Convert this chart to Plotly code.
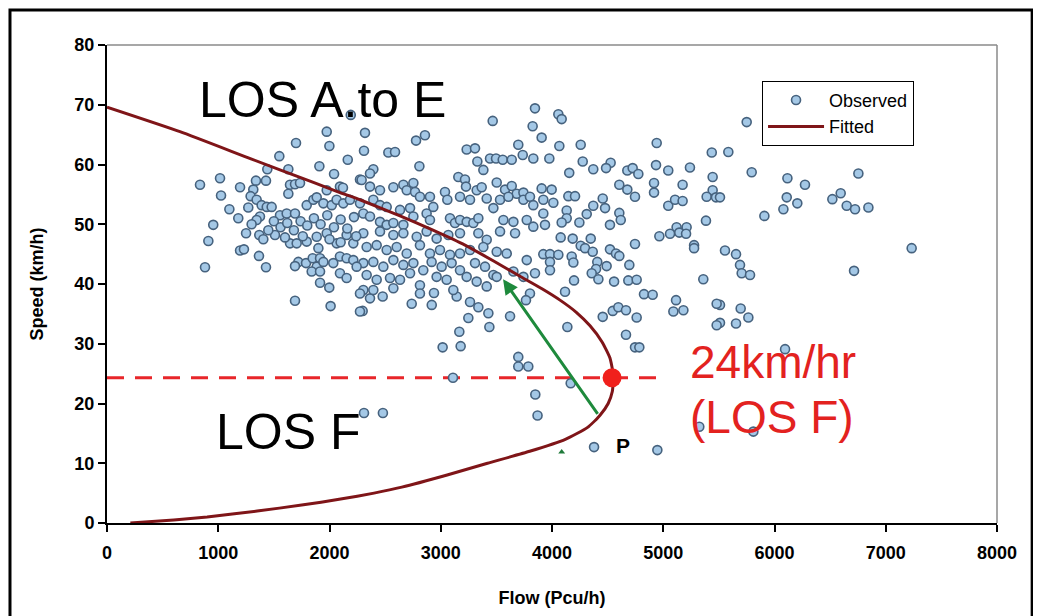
import plotly.graph_objects as go

# ---------------- data ----------------
observed = [
    (836,56.6),(1016,57.7),(1025,54.8),(955,49.9),(911,47.2),(881,42.8),
    (1196,56.2),(1315,55.8),(1339,57.3),(1429,57.3),(1441,59.2),(1549,61.4),(1630,59.2),(1699,63.6),
    (1645,56.6),(1690,56.7),(1735,56.9),(1630,55.1),(1909,59.7),(1975,65.5),(1999,63.1),(2041,58.4),
    (2164,60.8),(2191,68.3),(1975,55.7),(2094,56.3),(2121,56.1),
    (1270,52.8),(1291,54.7),(1345,54.1),(1390,53.2),(1436,52.9),(1480,52.9),(1375,51.3),(1345,50.7),
    (1555,51.5),(1615,51.8),(1690,51.8),(1795,53.2),(1855,54.1),(1885,54.5),(1945,53.5),(2020,53.2),
    (2064,54.1),(2124,53.5),(2184,54.1),
    (3847,69.4),(3467,67.3),(3826,66.4),(2319,65.3),(2858,64.9),(2778,64.0),(2310,62.3),(2529,62.0),
    (2589,62.1),(2808,59.7),(3233,62.5),(3308,62.7),(3697,63.3),(3737,61.6),(3832,61.0),(3329,60.5),
    (3383,59.1),(3443,61.0),(3497,61.0),(3557,60.8),(3638,60.8),(2394,59.2),(2364,58.5),(2274,57.5),
    (3158,57.9),(3218,57.5),(3227,56.3),(3503,57.0),(3578,55.8),(3638,56.4),(3683,55.1),(3743,55.3),
    (3323,55.7),(3368,56.2),(2574,56.2),(2664,56.6),(2694,55.7),(2754,56.9),(2769,55.4),(2454,55.7),
    (2364,56.3),(2289,57.4),(2813,54.6),(2903,54.6),(3038,55.4),(3059,54.1),(3173,54.6),(3263,54.1),
    (3413,54.3),(3473,52.7),(3533,54.1),(3608,54.6),(3743,54.1),(3802,54.6),(3832,53.2),(2394,54.1),
    (2454,53.2),(2514,52.9),(2634,52.4),(2724,52.7),(2754,51.3),(2873,51.8),(2903,50.7),(2933,52.9),
    (3083,51.0),(3128,50.2),(3173,50.7),(3233,50.4),(3293,50.2),(3338,51.0),(3563,50.7),(3653,50.4),
    (3773,50.7),(3832,49.6),(2274,53.5),(2304,51.8),(2364,51.3),(2454,50.4),(2514,49.9),(2574,50.2),
    (2664,49.9),
    (4057,68.4),(4087,67.6),(3907,64.5),(4066,63.1),(4258,63.3),(3976,61.0),(4941,63.6),(5436,62.0),
    (4276,60.5),(4527,60.3),(4155,58.6),(4371,59.2),(4486,59.4),(4677,59.0),(4725,59.4),(4776,58.4),
    (4935,59.9),(5045,59.0),(5240,59.5),(5444,57.9),(4605,56.6),(4677,55.8),(4746,54.6),(4917,56.9),
    (4917,55.3),(5174,56.6),(5444,55.7),(5390,54.6),(5474,54.5),(3907,56.0),(3997,55.8),(4147,54.7),
    (4207,54.7),(4456,54.3),(3922,54.1),(4012,53.6),(4371,53.1),(4477,52.7),(5045,53.1),(5106,54.1),
    (5174,53.9),(4132,52.3),(4132,51.0),(4312,51.7),(4605,51.9),(4618,50.7),(3922,51.8),(4087,50.3),
    (4246,50.3),(4521,49.9),(5384,50.6),(5120,49.5),(5210,49.5),(3937,49.9),
    (5750,67.1),(6200,64.9),(5585,62.1),(5795,58.7),(6116,57.7),(6274,56.6),(6754,58.5),(6110,54.5),
    (6205,53.5),(6080,52.5),(5909,51.4),(6520,54.2),(6595,55.2),(6649,53.1),(6724,52.5),(6844,52.8),
    (5510,54.5),(5555,45.6),(5654,45.0),(7233,46.0),
    (5690,43.2),(5705,41.8),(5780,41.5),(6715,42.2),(5510,36.5),(5510,33.5),(5696,35.9),(5765,34.4),
    (5654,33.4),(6095,29.1),(5810,15.3),(5324,16.1),
    (4078,47.8),(4186,47.6),(4348,47.6),(4965,48.0),(5061,48.4),(5144,48.6),(5205,48.4),(4746,46.7),
    (5277,46.5),(5277,46.0),(4258,46.4),(4297,46.0),(4366,45.4),(4521,45.8),(4575,45.1),(4605,44.7),
    (3922,45.0),(3982,45.0),(4057,44.9),(3982,43.7),(3982,42.3),(4177,44.6),(4192,43.6),(4407,43.7),
    (4396,42.5),(4491,43.0),(4695,43.2),(4357,41.8),(4417,40.8),(4558,40.4),(4686,40.6),(4761,40.7),
    (4198,40.6),(4117,38.7),(4827,38.3),(4905,38.2),(5360,40.8),(5115,37.3),(5091,35.4),(5181,35.6),
    (4456,34.5),(4546,35.5),(4596,36.1),(4665,35.6),(4761,34.4),(4138,32.8),(4665,31.5),(4746,29.4),
    (4785,29.4),(5480,36.7),(5480,33.1),
    (4168,23.4),(4378,12.7),(4947,12.2),
    (2298,35.5),(2739,36.7),(2919,36.5),(3143,37.9),(3263,37.0),(3338,36.1),(3428,35.1),(3248,34.3),
    (3437,32.8),(3167,32.0),(3017,29.4),(3179,29.6),(3623,34.6),(3697,27.8),(3787,26.2),(3697,26.2),
    (3802,38.4),(3766,37.3),(2939,38.5),(3113,39.0),(2478,37.9),(2364,37.6),
    (2304,48.5),(2454,48.8),(2574,48.2),(2664,48.5),(2784,47.9),(2873,48.8),(2963,47.6),(3068,48.2),
    (3173,48.5),(3338,48.5),(3413,47.4),(3533,48.8),(3668,48.5),
    (2334,46.2),(2424,46.5),(2514,45.7),(2604,46.2),(2694,45.1),(2813,46.5),(2903,45.1),(2993,45.7),
    (3083,44.9),(3173,45.1),(3263,45.7),(3383,46.2),(3503,45.4),(3593,45.1),(3773,44.0),
    (2304,43.5),(2394,43.7),(2484,42.9),(2574,44.0),(2664,43.2),(2754,43.5),(2843,42.3),(2918,43.7),
    (3008,42.9),(3098,43.5),(3173,42.3),(3308,43.5),(3398,42.9),(3473,41.5),(3653,42.1),(3743,41.2),
    (3847,41.8),
    (2334,41.5),(2424,40.7),(2544,41.0),(2634,40.7),(2724,41.8),(2813,39.8),(2963,41.2),(3053,40.7),
    (3233,41.2),(3323,40.4),(3413,39.6),(3503,41.2),
    (2304,39.0),(2394,39.0),(2574,39.3),(2813,38.4),
    (1196,45.6),(1231,45.8),(1366,44.7),(1429,42.8),(1369,48.2),(1405,47.5),(1510,48.2),
    (1645,46.8),(1705,46.8),(1795,47.1),(1885,47.9),(1975,48.5),(2064,46.8),(2154,48.2),(2214,46.8),
    (1720,43.7),(1789,43.5),(1849,44.3),(1915,44.3),(1690,43.0),(1885,42.9),(1840,42.1),(1915,42.1),
    (1945,43.7),(2034,43.5),(2094,44.6),(2154,44.3),(2214,44.0),(2244,42.9),(2094,41.8),(2154,41.0),
    (1915,40.2),(1998,39.4),(1690,37.2),(2010,36.3),(2274,38.4),(2274,35.4),
    (1500,50.5),(1560,49.5),(1620,50.2),(1680,49.0),(1740,50.5),(1800,49.8),(1860,51.0),(1920,50.0),
    (1980,51.5),(2040,49.5),(2100,50.8),(2160,49.3),(2220,51.2),(1450,49.0),(1250,48.5),(1180,51.0),
    (1100,52.5),(1300,50.0),(2000,47.5),(2100,47.0),(1900,46.0),(1760,48.0),(1600,47.8),(2240,48.0),
    (2310,18.4),(2480,18.4),(3850,21.5),(3870,18.0),(3110,24.3),
]
observed_flow = [p[0] for p in observed]
observed_speed = [p[1] for p in observed]

fitted_speed = [0, 0.5, 1, 2, 3, 4, 5, 6, 8, 10, 12, 14, 16, 18, 20, 22, 24.6, 27.6, 30.3, 33.0,
                35.3, 37.3, 39.2, 41.3, 43.8, 46.5, 49.0, 51.4, 54.1, 55.3, 57.0, 60.9, 65.5, 69.6]
fitted_flow = [210, 600, 900, 1350, 1750, 2100, 2400, 2650, 3050, 3420, 3800, 4120, 4320, 4430,
               4505, 4542, 4552, 4521, 4450, 4342, 4216, 4072, 3910, 3712, 3479, 3218, 2930, 2634,
               2274, 2094, 1855, 1300, 656, 0]

critical_speed = 24.3
critical_flow = 4540
los_line_flow = [0, 4980]
arrow_start = (4420, 18.0)
arrow_end = (3560, 40.8)
marker_point = (4087, 11.9)

x_ticks = [0, 1000, 2000, 3000, 4000, 5000, 6000, 7000, 8000]
y_ticks = [0, 10, 20, 30, 40, 50, 60, 70, 80]

FONT = "Liberation Sans, Arial, sans-serif"

fig = go.Figure()

fig.add_trace(go.Scatter(
    x=los_line_flow, y=[critical_speed, critical_speed], mode="lines",
    line=dict(color="#e8262a", width=3, dash="17px,11px"), showlegend=False, hoverinfo="skip"))

fig.add_trace(go.Scatter(
    x=observed_flow, y=observed_speed, mode="markers", name="Observed",
    marker=dict(size=9, color="#a4c8e6", line=dict(color="#46627e", width=1.6))))

fig.add_trace(go.Scatter(
    x=fitted_flow, y=fitted_speed, mode="lines", name="Fitted",
    line=dict(color="#7f1518", width=3, shape="spline", smoothing=0.5)))

fig.add_trace(go.Scatter(
    x=[critical_flow], y=[critical_speed], mode="markers", showlegend=False,
    marker=dict(size=19, color="#f0201c"), hoverinfo="skip"))

fig.add_trace(go.Scatter(
    x=[marker_point[0]], y=[marker_point[1]], mode="markers", showlegend=False,
    marker=dict(size=6, color="#1f7a3a", symbol="triangle-up"), hoverinfo="skip"))

fig.add_annotation(x=arrow_end[0], y=arrow_end[1], ax=arrow_start[0], ay=arrow_start[1],
                   xref="x", yref="y", axref="x", ayref="y", showarrow=True,
                   arrowhead=2, arrowsize=1, arrowwidth=3, arrowcolor="#1e8a3c", text="")

fig.add_annotation(x=1933, y=70.8, xref="x", yref="y", text="LOS A.to E", showarrow=False,
                   font=dict(family=FONT, size=50, color="black"), xanchor="center", yanchor="middle")
fig.add_annotation(x=1627, y=15.2, xref="x", yref="y", text="LOS F", showarrow=False,
                   font=dict(family=FONT, size=50, color="black"), xanchor="center", yanchor="middle")
fig.add_annotation(x=5223, y=27.0, xref="x", yref="y", text="24km/hr", showarrow=False,
                   font=dict(family=FONT, size=46, color="#e3221f"), xanchor="left", yanchor="middle")
fig.add_annotation(x=5223, y=17.8, xref="x", yref="y", text="(LOS F)", showarrow=False,
                   font=dict(family=FONT, size=46, color="#e3221f"), xanchor="left", yanchor="middle")
fig.add_annotation(x=4640, y=12.9, xref="x", yref="y", text="<b>P</b>", showarrow=False,
                   font=dict(family=FONT, size=21, color="black"), xanchor="center", yanchor="middle")

# frame & plot-area border (paper coords: plot area is 890 x 478 px)
fig.add_shape(type="rect", xref="paper", yref="paper", x0=-0.109, x1=1.0395, y0=-0.25, y1=1.073,
              line=dict(color="black", width=3), layer="below")
fig.add_shape(type="line", xref="paper", yref="paper", x0=0, x1=1, y0=1, y1=1,
              line=dict(color="#8a8a8a", width=1.5), layer="below")
fig.add_shape(type="line", xref="paper", yref="paper", x0=1, x1=1, y0=0, y1=1,
              line=dict(color="#8a8a8a", width=1.5), layer="below")

tick_font = dict(family=FONT, size=18, color="black", weight="bold")
title_font = dict(family=FONT, size=18, color="black", weight="bold")
fig.update_xaxes(range=[0, 8000], tickvals=x_ticks, ticktext=[str(v) for v in x_ticks],
                 showgrid=False, zeroline=False, showline=True, linecolor="black", linewidth=2,
                 ticks="outside", ticklen=7, tickwidth=2, tickcolor="black", tickfont=tick_font,
                 ticklabelstandoff=5,
                 title=dict(text="Flow (Pcu/h)", font=title_font, standoff=30))
fig.update_yaxes(range=[0, 80], tickvals=y_ticks, ticktext=[str(v) for v in y_ticks],
                 showgrid=False, zeroline=False, showline=True, linecolor="black", linewidth=2,
                 ticks="outside", ticklen=7, tickwidth=2, tickcolor="black", tickfont=tick_font,
                 title=dict(text="Speed (km/h)", font=title_font, standoff=26))

# page body has an 8px margin, so the figure is 8px smaller than the window on each axis
fig.update_layout(
    width=1033, height=608,
    margin=dict(l=99, r=44, t=37, b=93),
    paper_bgcolor="white", plot_bgcolor="white",
    font=dict(family=FONT),
    legend=dict(x=0.736, y=0.925, xanchor="left", yanchor="top",
                bordercolor="black", borderwidth=1, bgcolor="white",
                font=dict(family=FONT, size=18, color="black"),
                tracegroupgap=0, itemwidth=56),
)

fig.write_html("out.html")
